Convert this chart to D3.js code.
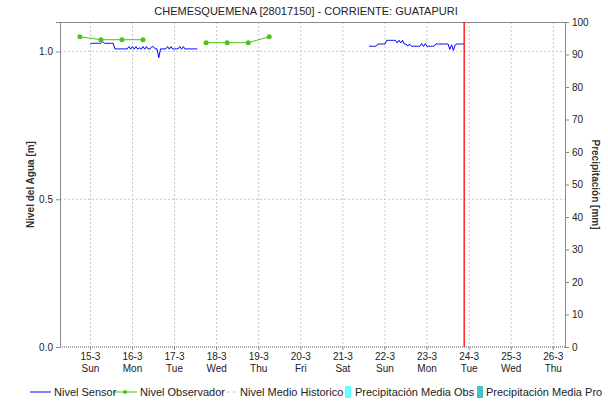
<!DOCTYPE html>
<html>
<head>
<meta charset="utf-8">
<script src="https://cdn.jsdelivr.net/npm/d3@7"></script>
<style>
  body { margin: 0; background: #fff; }
  text { font-family: "Liberation Sans", Arial, sans-serif; }
</style>
</head>
<body>
<div id="chart"></div>
<script>

const margin = {top: 22, right: 43, bottom: 55, left: 60}
const width = 608 - margin.left - margin.right
const height = 402 - margin.top - margin.bottom

const titleText = "CHEMESQUEMENA [28017150] - CORRIENTE: GUATAPURI"

// time window and "now" marker
const xStart = "2020-03-14T06:40"
const xEnd = "2020-03-26T06:40"
const nowTime = "2020-03-23T21:10"

// sensor level, hourly readings, two stretches
const sensorStart1 = "2020-03-15T00:00"
const sensorLevels1 = [1.025,
  1.028,1.028,1.028,1.028,1.028,1.028, 1.034, 1.028,1.028,1.028,1.028,1.028,1.028,
  1.009,1.009,1.009,1.009,1.009,1.009,1.009,1.009,
  1.017,1.008,1.017,1.008,1.017,1.008,1.013,1.008,1.017,1.008,1.017,1.008,1.009,1.016,1.016,1.009,
  1.009, 0.979, 1.009, 1.009,1.009,1.009,
  1.017,1.008,1.017,1.008, 1.009,1.009,1.009,
  1.017,1.008,1.017,1.008, 1.009,1.009,1.009,1.009,1.009,1.009,1.009]

const sensorStart2 = "2020-03-21T15:00"
const sensorLevels2 = [1.018,1.018,1.018,1.018,1.018,
  1.0255,1.0255,1.0255,1.0255,1.0255,
  1.038,1.038,1.038,1.038,1.038,1.038,
  1.029,1.038,1.029,1.038,
  1.0255,1.0255, 1.018,1.0255,1.018,
  1.018,1.018,1.018,1.018,1.018,
  1.027,1.017,1.027,1.017,
  1.018,1.018,1.018,1.018,
  1.0255,1.0255,1.0255,1.0255,1.0255,1.0255,1.0255,1.0255,
  1.007,1.023,1.004,1.022,
  1.0255,1.0255,1.0255,1.0255,1.0255]

// observer readings (null = no reading)
const obsTimes = ["2020-03-14T18:00","2020-03-15T06:00","2020-03-15T18:00","2020-03-16T06:00",
  "2020-03-16T18:00","2020-03-17T06:00","2020-03-17T18:00","2020-03-18T06:00",
  "2020-03-18T18:00","2020-03-19T06:00"]
const obsLevels = [1.05,1.04,1.04,1.04,null,null,1.03,1.03,1.03,1.05]

const levelTicks = [0, 0.5, 1.0]
const rainTicks = [0,10,20,30,40,50,60,70,80,90,100]

const legendNames = ["Nivel Sensor","Nivel Observador","Nivel Medio Historico","Precipitación Media Obs","Precipitación Media Pro"]

const parse = d3.utcParse("%Y-%m-%dT%H:%M")

function hourly(start, levels) {
  let t0 = parse(start)
  return levels.map((v, i) => ({t: d3.utcHour.offset(t0, i), v: v}))
}
const sensor1 = hourly(sensorStart1, sensorLevels1)
const sensor2 = hourly(sensorStart2, sensorLevels2)
const observer = obsTimes.map((t, i) => ({t: parse(t), v: obsLevels[i]}))

var x = d3.scaleUtc()
  .domain([parse(xStart), parse(xEnd)])
  .range([0, width])

var y = d3.scaleLinear()
  .domain([0, 1.1])
  .range([height, 0])

var y2 = d3.scaleLinear()
  .domain([0, 100])
  .range([height, 0])

var svg = d3.select("#chart")
  .append("svg")
  .attr("width", width + margin.left + margin.right)
  .attr("height", height + margin.top + margin.bottom)

svg.append("text")
  .attr("x", 306)
  .attr("y", 15)
  .attr("text-anchor", "middle")
  .style("font-size", "11px")
  .style("fill", "#222")
  .text(titleText)

var g = svg.append("g")
  .attr("transform", "translate(" + margin.left + "," + margin.top + ")")

const days = d3.utcDay.range(d3.utcDay.ceil(x.domain()[0]), x.domain()[1])

// grid
g.append("g")
  .selectAll("line")
  .data(days)
  .join("line")
  .attr("x1", d => x(d)).attr("x2", d => x(d))
  .attr("y1", 0).attr("y2", height)
  .attr("stroke", "#c8c8c8")
  .attr("stroke-dasharray", "2,2")

g.append("g")
  .selectAll("line")
  .data(levelTicks.filter(d => d > 0))
  .join("line")
  .attr("x1", 0).attr("x2", width)
  .attr("y1", d => y(d)).attr("y2", d => y(d))
  .attr("stroke", "#c8c8c8")
  .attr("stroke-dasharray", "2,2")

// frame
g.append("line").attr("x1", 0).attr("x2", width).attr("y1", 0.5).attr("y2", 0.5).attr("stroke", "#8a8a8a")
g.append("line").attr("x1", 0).attr("x2", width).attr("y1", height).attr("y2", height)
  .attr("stroke", "#555").attr("stroke-dasharray", "1,1")

// left axis
g.append("g")
  .call(d3.axisLeft(y).tickValues(levelTicks).tickFormat(d3.format(".1f")).tickSize(4).tickPadding(3))
  .call(a => a.select(".domain").attr("stroke", "#8a8a8a"))
  .call(a => a.selectAll(".tick line").attr("stroke", "#8a8a8a"))
  .call(a => a.selectAll("text").style("font-size", "10px").style("fill", "#222"))

// right axis
g.append("g")
  .attr("transform", "translate(" + width + ",0)")
  .call(d3.axisRight(y2).tickValues(rainTicks).tickSize(4).tickPadding(3))
  .call(a => a.select(".domain").attr("stroke", "#8a8a8a"))
  .call(a => a.selectAll(".tick line").attr("stroke", "#8a8a8a"))
  .call(a => a.selectAll("text").style("font-size", "10px").style("fill", "#222"))

// x labels
var xl = g.append("g")
  .attr("transform", "translate(0," + height + ")")
  .selectAll("g")
  .data(days)
  .join("g")
  .attr("transform", d => "translate(" + x(d) + ",0)")
xl.append("line").attr("y1", 0).attr("y2", 3).attr("stroke", "#8a8a8a")
xl.append("text")
  .attr("y", 13)
  .attr("text-anchor", "middle")
  .style("font-size", "10px").style("fill", "#222")
  .text(d3.utcFormat("%-d-%-m"))
xl.append("text")
  .attr("y", 25)
  .attr("text-anchor", "middle")
  .style("font-size", "10px").style("fill", "#222")
  .text(d3.utcFormat("%a"))

// axis titles
svg.append("text")
  .attr("transform", "translate(34," + (margin.top + height / 2) + ") rotate(-90)")
  .attr("text-anchor", "middle")
  .style("font-size", "10px").style("font-weight", "bold").style("fill", "#333")
  .text("Nivel del Agua [m]")
svg.append("text")
  .attr("transform", "translate(592," + (margin.top + height / 2) + ") rotate(90)")
  .attr("text-anchor", "middle")
  .style("font-size", "10px").style("font-weight", "bold").style("fill", "#333")
  .text("Precipitación [mm]")

// series
const line = d3.line()
  .defined(d => d.v != null)
  .x(d => x(d.t))
  .y(d => y(d.v))

;[sensor1, sensor2].forEach(s => {
  g.append("path")
    .datum(s)
    .attr("fill", "none")
    .attr("stroke", "#0000ff")
    .attr("stroke-width", 1)
    .attr("d", line)
})

g.append("path")
  .datum(observer)
  .attr("fill", "none")
  .attr("stroke", "#4cc417")
  .attr("stroke-width", 1)
  .attr("d", line)

g.selectAll(".obs")
  .data(observer.filter(d => d.v != null))
  .join("circle")
  .attr("class", "obs")
  .attr("cx", d => x(d.t))
  .attr("cy", d => y(d.v))
  .attr("r", 2.5)
  .style("fill", "#4cc417")

// now marker
g.append("line")
  .attr("x1", x(parse(nowTime))).attr("x2", x(parse(nowTime)))
  .attr("y1", 0).attr("y2", height)
  .attr("stroke", "#ff0000")
  .attr("stroke-width", 1.3)

// legend
var lg = svg.append("g").attr("transform", "translate(0,392)")
const legendX = [30, 113, 221, 345, 477]
lg.append("line").attr("x1", legendX[0]).attr("x2", legendX[0] + 21).attr("stroke", "#0000ff")
lg.append("line").attr("x1", legendX[1]).attr("x2", legendX[1] + 24).attr("stroke", "#4cc417")
lg.append("circle").attr("cx", legendX[1] + 12).attr("r", 2).style("fill", "#4cc417")
lg.append("line").attr("x1", legendX[2]).attr("x2", legendX[2] + 15).attr("stroke", "#c8c8c8").attr("stroke-dasharray", "3,3")
lg.append("rect").attr("x", legendX[3]).attr("y", -6).attr("width", 6).attr("height", 12).style("fill", "#66ffff")
lg.append("rect").attr("x", legendX[4]).attr("y", -6).attr("width", 6).attr("height", 12).style("fill", "#44c4c4")
const textX = [54, 140, 240, 355, 486]
lg.selectAll(".lt")
  .data(legendNames)
  .join("text")
  .attr("class", "lt")
  .attr("x", (d, i) => textX[i])
  .attr("y", 4)
  .style("font-size", "11px")
  .style("fill", "#222")
  .text(d => d)

</script>
</body>
</html>
